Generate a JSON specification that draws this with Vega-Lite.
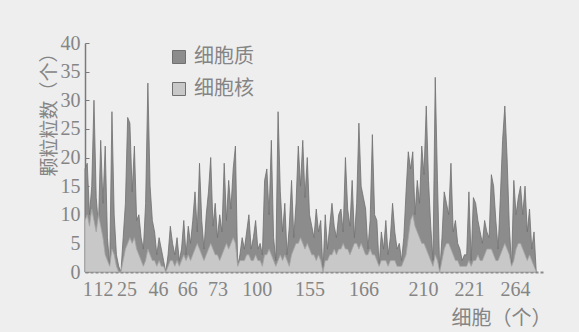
{
  "$schema": "https://vega.github.io/schema/vega-lite/v6.json",
  "width": 458,
  "height": 229,
  "autosize": {"type": "none"},
  "padding": {"left": 85, "top": 43, "right": 36, "bottom": 60},
  "background": "#eeeeee",
  "config": {"view": {"stroke": null}},
  "data": {"values": [
    {"i":0,"细胞质":18,"细胞核":9},{"i":1,"细胞质":19,"细胞核":10},{"i":2,"细胞质":10,"细胞核":8},{"i":3,"细胞质":15,"细胞核":11},{"i":4,"细胞质":30,"细胞核":9},
    {"i":5,"细胞质":13,"细胞核":7},{"i":6,"细胞质":8,"细胞核":10},{"i":7,"细胞质":23,"细胞核":8},{"i":8,"细胞质":12,"细胞核":6},{"i":9,"细胞质":22,"细胞核":3},
    {"i":10,"细胞质":6,"细胞核":2},{"i":11,"细胞质":1,"细胞核":1},{"i":12,"细胞质":28,"细胞核":4},{"i":13,"细胞质":10,"细胞核":3},{"i":14,"细胞质":3,"细胞核":1},
    {"i":15,"细胞质":1,"细胞核":0},{"i":16,"细胞质":0,"细胞核":0},{"i":17,"细胞质":6,"细胞核":2},{"i":18,"细胞质":12,"细胞核":4},{"i":19,"细胞质":27,"细胞核":5},
    {"i":20,"细胞质":26,"细胞核":6},{"i":21,"细胞质":14,"细胞核":5},{"i":22,"细胞质":22,"细胞核":6},{"i":23,"细胞质":9,"细胞核":4},{"i":24,"细胞质":10,"细胞核":3},
    {"i":25,"细胞质":6,"细胞核":2},{"i":26,"细胞质":4,"细胞核":1},{"i":27,"细胞质":12,"细胞核":2},{"i":28,"细胞质":33,"细胞核":4},{"i":29,"细胞质":15,"细胞核":3},
    {"i":30,"细胞质":9,"细胞核":2},{"i":31,"细胞质":7,"细胞核":2},{"i":32,"细胞质":3,"细胞核":1},{"i":33,"细胞质":6,"细胞核":2},{"i":34,"细胞质":4,"细胞核":1},
    {"i":35,"细胞质":2,"细胞核":1},{"i":36,"细胞质":0,"细胞核":0},{"i":37,"细胞质":3,"细胞核":1},{"i":38,"细胞质":8,"细胞核":2},{"i":39,"细胞质":5,"细胞核":2},
    {"i":40,"细胞质":3,"细胞核":1},{"i":41,"细胞质":6,"细胞核":2},{"i":42,"细胞质":2,"细胞核":1},{"i":43,"细胞质":4,"细胞核":2},{"i":44,"细胞质":9,"细胞核":3},
    {"i":45,"细胞质":3,"细胞核":2},{"i":46,"细胞质":8,"细胞核":3},{"i":47,"细胞质":5,"细胞核":2},{"i":48,"细胞质":9,"细胞核":3},{"i":49,"细胞质":14,"细胞核":4},
    {"i":50,"细胞质":7,"细胞核":5},{"i":51,"细胞质":19,"细胞核":4},{"i":52,"细胞质":9,"细胞核":3},{"i":53,"细胞质":4,"细胞核":2},{"i":54,"细胞质":10,"细胞核":3},
    {"i":55,"细胞质":14,"细胞核":4},{"i":56,"细胞质":20,"细胞核":5},{"i":57,"细胞质":8,"细胞核":4},{"i":58,"细胞质":12,"细胞核":3},{"i":59,"细胞质":6,"细胞核":3},
    {"i":60,"细胞质":10,"细胞核":2},{"i":61,"细胞质":7,"细胞核":3},{"i":62,"细胞质":19,"细胞核":4},{"i":63,"细胞质":9,"细胞核":5},{"i":64,"细胞质":16,"细胞核":4},
    {"i":65,"细胞质":11,"细胞核":5},{"i":66,"细胞质":18,"细胞核":6},{"i":67,"细胞质":22,"细胞核":5},{"i":68,"细胞质":1,"细胞核":1},{"i":69,"细胞质":3,"细胞核":2},
    {"i":70,"细胞质":6,"细胞核":2},{"i":71,"细胞质":4,"细胞核":2},{"i":72,"细胞质":7,"细胞核":3},{"i":73,"细胞质":10,"细胞核":3},{"i":74,"细胞质":4,"细胞核":2},
    {"i":75,"细胞质":6,"细胞核":2},{"i":76,"细胞质":9,"细胞核":3},{"i":77,"细胞质":4,"细胞核":2},{"i":78,"细胞质":5,"细胞核":2},{"i":79,"细胞质":3,"细胞核":1},
    {"i":80,"细胞质":16,"细胞核":3},{"i":81,"细胞质":18,"细胞核":3},{"i":82,"细胞质":10,"细胞核":4},{"i":83,"细胞质":23,"细胞核":3},{"i":84,"细胞质":6,"细胞核":2},
    {"i":85,"细胞质":2,"细胞核":1},{"i":86,"细胞质":28,"细胞核":2},{"i":87,"细胞质":14,"细胞核":3},{"i":88,"细胞质":7,"细胞核":2},{"i":89,"细胞质":12,"细胞核":3},
    {"i":90,"细胞质":3,"细胞核":2},{"i":91,"细胞质":8,"细胞核":1},{"i":92,"细胞质":16,"细胞核":3},{"i":93,"细胞质":6,"细胞核":4},{"i":94,"细胞质":12,"细胞核":5},
    {"i":95,"细胞质":22,"细胞核":5},{"i":96,"细胞质":15,"细胞核":6},{"i":97,"细胞质":23,"细胞核":5},{"i":98,"细胞质":13,"细胞核":4},{"i":99,"细胞质":20,"细胞核":5},
    {"i":100,"细胞质":10,"细胞核":4},{"i":101,"细胞质":8,"细胞核":3},{"i":102,"细胞质":6,"细胞核":3},{"i":103,"细胞质":11,"细胞核":2},{"i":104,"细胞质":7,"细胞核":3},
    {"i":105,"细胞质":9,"细胞核":2},{"i":106,"细胞质":0,"细胞核":0},{"i":107,"细胞质":10,"细胞核":2},{"i":108,"细胞质":4,"细胞核":2},{"i":109,"细胞质":8,"细胞核":3},
    {"i":110,"细胞质":12,"细胞核":3},{"i":111,"细胞质":8,"细胞核":4},{"i":112,"细胞质":6,"细胞核":3},{"i":113,"细胞质":10,"细胞核":4},{"i":114,"细胞质":11,"细胞核":4},
    {"i":115,"细胞质":7,"细胞核":5},{"i":116,"细胞质":20,"细胞核":4},{"i":117,"细胞质":11,"细胞核":4},{"i":118,"细胞质":8,"细胞核":3},{"i":119,"细胞质":16,"细胞核":4},
    {"i":120,"细胞质":6,"细胞核":5},{"i":121,"细胞质":12,"细胞核":5},{"i":122,"细胞质":26,"细胞核":4},{"i":123,"细胞质":15,"细胞核":5},{"i":124,"细胞质":13,"细胞核":4},
    {"i":125,"细胞质":11,"细胞核":3},{"i":126,"细胞质":4,"细胞核":3},{"i":127,"细胞质":9,"细胞核":4},{"i":128,"细胞质":24,"细胞核":3},{"i":129,"细胞质":10,"细胞核":3},
    {"i":130,"细胞质":9,"细胞核":2},{"i":131,"细胞质":1,"细胞核":1},{"i":132,"细胞质":7,"细胞核":2},{"i":133,"细胞质":4,"细胞核":2},{"i":134,"细胞质":9,"细胞核":2},
    {"i":135,"细胞质":3,"细胞核":1},{"i":136,"细胞质":6,"细胞核":2},{"i":137,"细胞质":12,"细胞核":2},{"i":138,"细胞质":7,"细胞核":2},{"i":139,"细胞质":4,"细胞核":1},
    {"i":140,"细胞质":5,"细胞核":1},{"i":141,"细胞质":2,"细胞核":1},{"i":142,"细胞质":6,"细胞核":2},{"i":143,"细胞质":14,"细胞核":3},{"i":144,"细胞质":21,"细胞核":6},
    {"i":145,"细胞质":18,"细胞核":9},{"i":146,"细胞质":21,"细胞核":10},{"i":147,"细胞质":10,"细胞核":8},{"i":148,"细胞质":16,"细胞核":7},{"i":149,"细胞质":12,"细胞核":6},
    {"i":150,"细胞质":22,"细胞核":5},{"i":151,"细胞质":17,"细胞核":5},{"i":152,"细胞质":29,"细胞核":4},{"i":153,"细胞质":16,"细胞核":3},{"i":154,"细胞质":8,"细胞核":2},
    {"i":155,"细胞质":2,"细胞核":1},{"i":156,"细胞质":34,"细胞核":3},{"i":157,"细胞质":16,"细胞核":2},{"i":158,"细胞质":0,"细胞核":0},{"i":159,"细胞质":6,"细胞核":2},
    {"i":160,"细胞质":14,"细胞核":4},{"i":161,"细胞质":12,"细胞核":5},{"i":162,"细胞质":10,"细胞核":5},{"i":163,"细胞质":19,"细胞核":4},{"i":164,"细胞质":7,"细胞核":3},
    {"i":165,"细胞质":9,"细胞核":2},{"i":166,"细胞质":5,"细胞核":2},{"i":167,"细胞质":4,"细胞核":1},{"i":168,"细胞质":2,"细胞核":1},{"i":169,"细胞质":3,"细胞核":1},
    {"i":170,"细胞质":3,"细胞核":1},{"i":171,"细胞质":14,"细胞核":2},{"i":172,"细胞质":2,"细胞核":1},{"i":173,"细胞质":13,"细胞核":2},{"i":174,"细胞质":12,"细胞核":2},
    {"i":175,"细胞质":9,"细胞核":3},{"i":176,"细胞质":7,"细胞核":2},{"i":177,"细胞质":5,"细胞核":2},{"i":178,"细胞质":9,"细胞核":3},{"i":179,"细胞质":7,"细胞核":4},
    {"i":180,"细胞质":6,"细胞核":4},{"i":181,"细胞质":17,"细胞核":4},{"i":182,"细胞质":15,"细胞核":3},{"i":183,"细胞质":9,"细胞核":2},{"i":184,"细胞质":4,"细胞核":2},
    {"i":185,"细胞质":13,"细胞核":3},{"i":186,"细胞质":23,"细胞核":4},{"i":187,"细胞质":29,"细胞核":5},{"i":188,"细胞质":20,"细胞核":4},{"i":189,"细胞质":8,"细胞核":3},
    {"i":190,"细胞质":1,"细胞核":1},{"i":191,"细胞质":16,"细胞核":2},{"i":192,"细胞质":10,"细胞核":4},{"i":193,"细胞质":13,"细胞核":5},{"i":194,"细胞质":15,"细胞核":5},
    {"i":195,"细胞质":10,"细胞核":4},{"i":196,"细胞质":15,"细胞核":3},{"i":197,"细胞质":7,"细胞核":2},{"i":198,"细胞质":11,"细胞核":3},{"i":199,"细胞质":4,"细胞核":2},
    {"i":200,"细胞质":7,"细胞核":1},{"i":201,"细胞质":0,"细胞核":0}
  ]},
  "transform": [{"fold": ["细胞质", "细胞核"], "as": ["key", "v"]}],
  "encoding": {
    "x": {
      "field": "i", "type": "quantitative",
      "scale": {"domain": [0, 204], "nice": false, "zero": false},
      "axis": {
        "values": [1, 8, 18.5, 32.5, 45.5, 59, 76.5, 100, 124, 150.5, 171, 191.5],
        "labelExpr": "['1','12','25','46','66','73','100','155','166','210','221','264'][indexof([1, 8, 18.5, 32.5, 45.5, 59, 76.5, 100, 124, 150.5, 171, 191.5], datum.value)]",
        "labelOverlap": false, "labelFlush": false,
        "labelFont": "Liberation Serif", "labelFontSize": 20, "labelColor": "#858585", "labelPadding": 7,
        "ticks": false, "grid": false,
        "domainColor": "#8a8a8a", "domainWidth": 2, "domainDash": [3, 2],
        "title": "细胞（个）", "titleAnchor": "end", "titleAlign": "right", "titleX": 466,
        "titleFont": "Noto Sans CJK SC", "titleFontSize": 20,
        "titleFontWeight": "normal", "titleColor": "#858585", "titlePadding": 9
      }
    },
    "y": {
      "field": "v", "type": "quantitative",
      "scale": {"domain": [0, 40], "nice": false},
      "axis": {
        "values": [0, 5, 10, 15, 20, 25, 30, 35, 40],
        "labelFont": "Liberation Serif", "labelFontSize": 20, "labelColor": "#858585", "labelPadding": 9,
        "tickSize": -4, "tickColor": "#7a7a7a", "grid": false,
        "domainColor": "#7a7a7a", "domainWidth": 1.5,
        "title": "颗粒粒数（个）", "titleAnchor": "end", "titleFont": "Noto Sans CJK SC", "titleFontSize": 19,
        "titleFontWeight": "normal", "titleColor": "#858585", "titlePadding": 1
      }
    },
    "color": {
      "field": "key", "type": "nominal",
      "scale": {"domain": ["细胞质", "细胞核"], "range": ["#8c8c8c", "#c8c8c8"]},
      "legend": {
        "title": null, "orient": "none", "legendX": 84, "legendY": 4, "padding": 0,
        "symbolType": "square", "symbolSize": 169, "symbolStrokeColor": "#707070", "symbolStrokeWidth": 1,
        "symbolOpacity": 1,
        "labelFont": "Noto Sans CJK SC", "labelFontSize": 20, "labelColor": "#858585",
        "rowPadding": 12, "labelOffset": 5
      }
    }
  },
  "layer": [
    {
      "transform": [{"filter": "datum.key === '细胞质'"}],
      "mark": {"type": "area", "stroke": "#707070", "strokeWidth": 0.8, "opacity": 1}
    },
    {
      "transform": [{"filter": "datum.key === '细胞核'"}],
      "mark": {"type": "area", "stroke": "#a5a5a5", "strokeWidth": 0.8, "opacity": 1}
    }
  ]
}
